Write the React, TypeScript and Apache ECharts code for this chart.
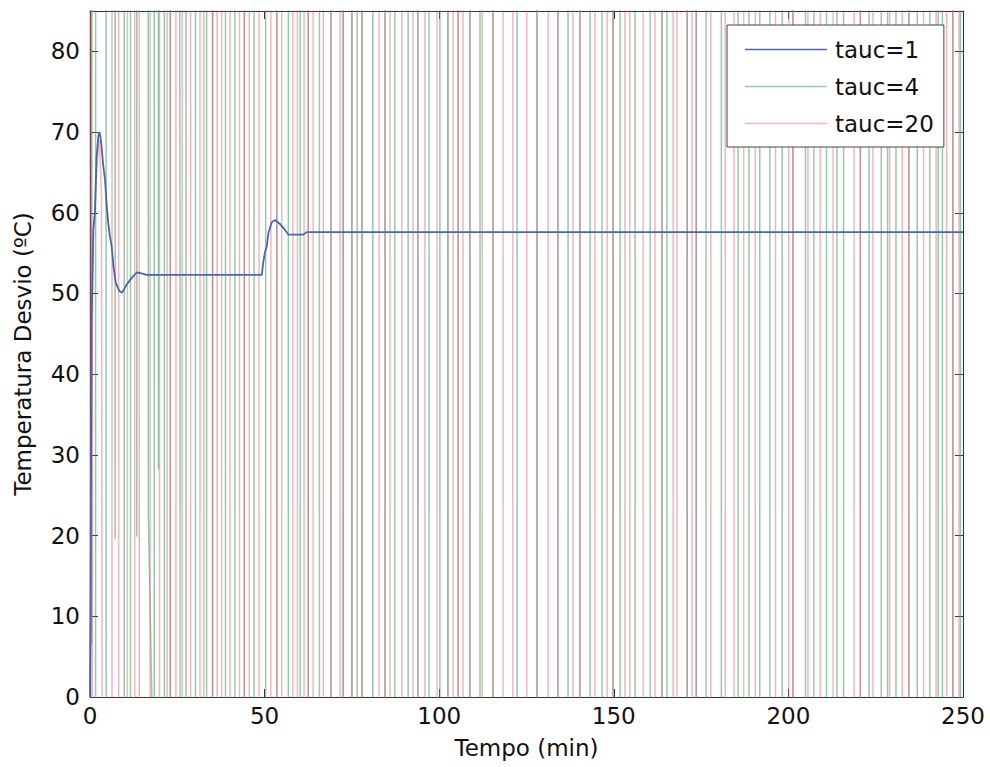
import React, { useEffect, useRef } from "react";
import * as echarts from "echarts";

// ---- data ----
const HI = 1000; // response far above the visible range
const LO = -1000; // response far below the visible range

const xTicks = [0, 50, 100, 150, 200, 250];
const yTicks = [0, 10, 20, 30, 40, 50, 60, 70, 80];
const seriesNames = ["tauc=1", "tauc=4", "tauc=20"];

// tauc = 1 (blue)
const tauc1Time = [0, 0.15, 0.3, 0.45, 0.7, 0.95, 1.4, 1.9, 2.4, 2.7, 3.0, 3.3, 3.8, 4.3, 4.8, 5.2, 5.7, 6.2, 6.7, 7.4, 8.4, 9.2, 10.5, 11.9, 13.4, 14.8, 16.2, 49.2, 49.6, 50.1, 50.6, 51.1, 52.0, 53.0, 54.4, 55.8, 56.8, 61.1, 62.1, 250];
const tauc1Temp = [0, 10, 30, 46.5, 52, 57.9, 60, 67, 69.5, 70, 69.4, 68.3, 65.8, 64.1, 60.8, 58.8, 57.1, 55.9, 53.4, 51.3, 50.3, 50.1, 51.1, 51.9, 52.6, 52.5, 52.3, 52.3, 53.8, 55.1, 55.8, 57.5, 58.8, 59.1, 58.6, 57.9, 57.3, 57.3, 57.6, 57.6];

// tauc = 4 (green): start of the run, then the times where it swings across the whole axis
const tauc4HeadTime = [0, 0.3, 0.5, 0.9, 1.6, 1.6, 4.6, 4.6, 6.9, 7.2, 7.5, 9.8, 9.8, 11.6, 11.6, 13.2, 13.4, 13.6, 16.5, 16.7, 17.7, 17.8, 18.4, 18.4, 19.4, 19.6, 19.8, 21.3, 21.3, 23.0, 23.0, 25.6, 25.7, 25.8, 25.9];
const tauc4HeadTemp = [0, 17.5, 6.5, HI, HI, LO, LO, HI, HI, 19.5, HI, HI, LO, LO, HI, HI, 19.9, HI, HI, 23, 0, LO, LO, HI, HI, 28.2, HI, HI, LO, LO, HI, HI, 76.3, 58.8, LO];
const tauc4Flips = [27.5, 30.2, 33.4, 35.1, 38.8, 41.5, 44.2, 47.0, 50.3, 53.5, 56.8, 60.2, 62.5, 65.7, 69.0, 72.5, 75.0, 76.5, 77.9, 81.0, 84.5, 87.3, 91.1, 93.9, 97.1, 100.2, 102.5, 105.4, 108.8, 111.7, 115.4, 122.3, 128.0, 134.0, 136.9, 140.3, 143.2, 146.6, 149.8, 151.8, 156.1, 160.4, 163.8, 165.2, 171.0, 173.6, 176.4, 180.8, 185.6, 188.7, 191.8, 194.7, 198.2, 201.3, 204.9, 207.3, 210.9, 213.9, 215.8, 220.6, 223.1, 226.6, 228.4, 230.8, 234.5, 236.9, 240.5, 242.9, 244.1, 247.1, 249.3];

// tauc = 20 (red)
const tauc20HeadTime = [0, 0.1, 0.35, 0.4, 0.6, 0.7, 1.0, 1.5, 2.0, 2.7, 3.3, 5.8];
const tauc20HeadTemp = [0, HI, HI, LO, LO, 47, 58, 61, 66, 69, 62, LO];
const tauc20Flips = [6.3, 8.2, 10.7, 12.8, 14.1, 17.2, 19.9, 22.1, 23.0, 24.6, 26.4, 28.8, 31.5, 32.6, 35.1, 36.4, 37.7, 40.1, 42.8, 44.2, 45.6, 48.4, 51.8, 53.5, 54.9, 58.1, 59.4, 61.3, 62.5, 63.9, 66.8, 69.0, 71.6, 72.5, 75.0, 77.9, 82.8, 84.5, 85.9, 89.3, 92.5, 93.9, 95.9, 99.4, 102.5, 104.0, 105.4, 106.8, 108.8, 112.3, 115.4, 118.3, 121.1, 125.1, 128.0, 131.2, 134.0, 138.3, 140.3, 144.6, 148.1, 149.8, 153.2, 154.6, 158.4, 161.8, 163.8, 167.0, 168.1, 171.0, 172.4, 173.6, 177.8, 181.9, 184.4, 187.2, 190.5, 196.3, 200.1, 201.3, 205.6, 209.1, 212.8, 218.8, 220.6, 224.2, 229.0, 232.6, 234.5, 238.7, 242.3, 245.3, 247.1, 248.9];

// ---- helpers ----
function zip(t: number[], y: number[]): number[][] {
  return t.map((v, i) => [v, y[i]]);
}

function buildSwitching(headT: number[], headY: number[], flips: number[], tEnd: number): number[][] {
  const pts = zip(headT, headY);
  let level = headY[headY.length - 1];
  for (const t of flips) {
    pts.push([t, level]);
    level = level === HI ? LO : HI;
    pts.push([t, level]);
  }
  pts.push([tEnd, level]);
  return pts;
}

const FONT = "DejaVu Sans, Liberation Sans, Arial, sans-serif";
const AXIS_COLOR = "#333";
const FS = 23;
const X_LABEL_MARGIN = 7;

const BLUE = "#4a64ae";
const GREEN = "rgba(60,160,95,0.55)";
const RED = "rgba(225,90,115,0.45)";

export default function App() {
  const ref = useRef<HTMLDivElement>(null);

  useEffect(() => {
    if (!ref.current) return;
    const chart = echarts.init(ref.current, undefined, { renderer: "svg" });
    const xMax = xTicks[xTicks.length - 1];
    const yMax = 85;

    const baseX = {
      type: "value" as const,
      min: xTicks[0],
      max: xMax,
      interval: 50,
      splitLine: { show: false },
      axisLine: { show: true, onZero: false, lineStyle: { color: AXIS_COLOR, width: 1 } },
      axisTick: { show: true, inside: true, length: 8, lineStyle: { color: AXIS_COLOR } },
    };
    const baseY = {
      type: "value" as const,
      min: yTicks[0],
      max: yMax,
      interval: 10,
      splitLine: { show: false },
      axisLine: { show: true, onZero: false, lineStyle: { color: AXIS_COLOR, width: 1 } },
      axisTick: { show: true, inside: true, length: 8, lineStyle: { color: AXIS_COLOR } },
    };

    chart.setOption({
      animation: false,
      backgroundColor: "#ffffff",
      textStyle: { fontFamily: FONT },
      grid: {
        left: 90,
        right: 27,
        top: 11,
        bottom: 70,
        containLabel: false,
        outerBoundsMode: "none",
      },
      legend: {
        data: seriesNames.map((n) => ({ name: n, icon: "rect" })),
        left: 727,
        top: 25,
        orient: "vertical",
        itemWidth: 82,
        itemHeight: 1.6,
        itemGap: 14,
        padding: [13, 10, 12, 18],
        borderColor: "#444",
        borderWidth: 1,
        borderRadius: 0,
        backgroundColor: "#ffffff",
        textStyle: { fontSize: FS, color: "#111", fontFamily: FONT, padding: [0, 0, 0, 3] },
      },
      xAxis: [
        {
          ...baseX,
          position: "bottom",
          name: "Tempo (min)",
          nameLocation: "middle",
          nameGap: 39,
          nameMoveOverlap: false,
          nameTextStyle: { fontSize: FS, color: "#111", fontFamily: FONT },
          axisLabel: {
            fontSize: FS,
            color: "#111",
            margin: X_LABEL_MARGIN,
            fontFamily: FONT,
            hideOverlap: false,
            // the last tick label is placed below (centred on its tick) as graphic text
            formatter: (v: number) => (v === xMax ? "" : String(v)),
          },
        },
        { ...baseX, position: "top", axisLabel: { show: false } },
      ],
      yAxis: [
        {
          ...baseY,
          position: "left",
          name: "Temperatura Desvio (ºC)",
          nameLocation: "middle",
          nameGap: 56,
          nameMoveOverlap: false,
          nameTextStyle: { fontSize: FS, color: "#111", fontFamily: FONT },
          axisLabel: {
            fontSize: FS,
            color: "#111",
            margin: 10,
            fontFamily: FONT,
            formatter: (v: number) => (yTicks.indexOf(v) >= 0 ? String(v) : ""),
          },
        },
        { ...baseY, position: "right", axisLabel: { show: false } },
      ],
      series: [
        {
          name: seriesNames[1],
          type: "line",
          xAxisIndex: 0,
          yAxisIndex: 0,
          symbol: "none",
          showSymbol: false,
          clip: true,
          z: 2,
          data: buildSwitching(tauc4HeadTime, tauc4HeadTemp, tauc4Flips, xMax),
          lineStyle: { color: GREEN, width: 1.5 },
          itemStyle: { color: GREEN },
        },
        {
          name: seriesNames[2],
          type: "line",
          xAxisIndex: 0,
          yAxisIndex: 0,
          symbol: "none",
          showSymbol: false,
          clip: true,
          z: 3,
          data: buildSwitching(tauc20HeadTime, tauc20HeadTemp, tauc20Flips, xMax),
          lineStyle: { color: RED, width: 1.5 },
          itemStyle: { color: RED },
        },
        {
          name: seriesNames[0],
          type: "line",
          xAxisIndex: 0,
          yAxisIndex: 0,
          symbol: "none",
          showSymbol: false,
          clip: true,
          z: 4,
          data: zip(tauc1Time, tauc1Temp),
          lineStyle: { color: BLUE, width: 1.8 },
          itemStyle: { color: BLUE },
        },
      ],
    });

    // place the last x tick label, centred on its tick, using the chart's own scale
    const px = chart.convertToPixel({ xAxisIndex: 0, yAxisIndex: 0 } as any, [xMax, yTicks[0]]) as number[];
    if (px && isFinite(px[0]) && isFinite(px[1])) {
      chart.setOption({
        graphic: [
          {
            type: "text",
            x: px[0],
            y: px[1] + X_LABEL_MARGIN,
            silent: true,
            style: {
              text: String(xMax),
              fontSize: FS,
              fontFamily: FONT,
              fill: "#111",
              align: "center",
              verticalAlign: "top",
            },
          },
        ],
      });
    }

    return () => chart.dispose();
  }, []);

  return (
    <div
      ref={ref}
      style={{ position: "absolute", left: 0, top: 0, width: 990, height: 767, background: "#fff" }}
    />
  );
}
